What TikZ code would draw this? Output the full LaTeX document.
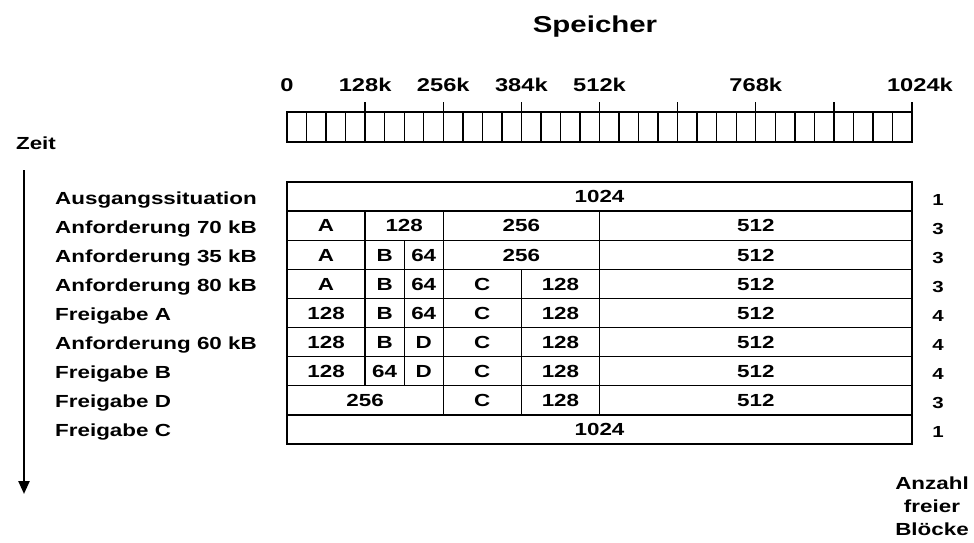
\documentclass[tikz,border=0pt]{standalone}
\usepackage{fontspec}
\setmainfont[FakeStretch=1.28]{Liberation Sans}
\usepackage{tikz}
\usetikzlibrary{
	arrows.meta,
	positioning
}

% one step of the buddy system: start/end/label of each block (in k)
\newcommand{\memrow}[2]{%
	\pgfmathsetmacro\yt{182+(#1-1)*29.1}
	\foreach \a/\b/\t in {#2} {
		\draw[block] (\a,\yt) rectangle (\b,{\yt+29.1});
		\node (c#1-\a) at ({(\a+\b)/2},{\yt+14.8}) {\t};
	}
}

\begin{document}
\begin{tikzpicture}[x=1pt,y=-1pt,>={Triangle[width=11pt,length=13pt]},
		every node/.style={font=\bfseries\fontsize{17.5}{23}\selectfont,inner sep=0pt},
		block/.style={draw,line width=1.4pt},
		tick/.style={line width=1.4pt}]
		
		\useasboundingbox (0,0) rectangle (974,543);
		
		% title
		\node (title) at (595,27) {\fontsize{23}{27}\selectfont Speicher};
		
		% ruler, one cell per 32k
		\begin{scope}[xshift=287pt,x=0.6104pt]
			\draw[tick] (0,112) rectangle (1024,142);
			\foreach \k in {32,64,...,992}
			\draw[tick] (\k,112) -- (\k,142);
			\foreach \k in {128,256,...,1024}
			\draw[tick] (\k,102) -- (\k,112);
			\foreach \k/\t in {
				0/0,
				128/128k,
				256/256k,
				384/384k,
				512/512k,
				768/768k
			}
			\node[anchor=base] (r\k) at (\k,92) {\fontsize{18.5}{22}\selectfont\t};
			\node[anchor=base] (r1024) at (1037,92) {\fontsize{18.5}{22}\selectfont 1024k};
			
			% memory blocks per step
			\memrow{1}{0/1024/1024}
			\memrow{2}{0/128/A,128/256/128,256/512/256,512/1024/512}
			\memrow{3}{0/128/A,128/192/B,192/256/64,256/512/256,512/1024/512}
			\memrow{4}{0/128/A,128/192/B,192/256/64,256/384/C,384/512/128,512/1024/512}
			\memrow{5}{0/128/128,128/192/B,192/256/64,256/384/C,384/512/128,512/1024/512}
			\memrow{6}{0/128/128,128/192/B,192/256/D,256/384/C,384/512/128,512/1024/512}
			\memrow{7}{0/128/128,128/192/64,192/256/D,256/384/C,384/512/128,512/1024/512}
			\memrow{8}{0/256/256,256/384/C,384/512/128,512/1024/512}
			\memrow{9}{0/1024/1024}
		\end{scope}
		
		% steps and number of free blocks
		\foreach \r/\t/\n in {
			1/Ausgangssituation/1,
			2/Anforderung 70 kB/3,
			3/Anforderung 35 kB/3,
			4/Anforderung 80 kB/3,
			5/Freigabe A/4,
			6/Anforderung 60 kB/4,
			7/Freigabe B/4,
			8/Freigabe D/3,
			9/Freigabe C/1
		}{
			\node[anchor=west] (lab\r) at (55,{182+(\r-0.5)*29.1+3}) {\t};
			\node (n\r) at (938,{182+(\r-0.5)*29.1+3}) {\fontsize{16}{19}\selectfont\n};
		}
		
		% time axis
		\node (zeit) at (36,143) {Zeit};
		\coordinate (t0) at (24,170);
		\coordinate (t1) at (24,494);
		\draw[->,line width=2.4pt] (t0) -- (t1);
		
		\node[align=center] (anz) at (932,506) {Anzahl\\freier\\Blöcke};
		
	\end{tikzpicture}
\end{document}
